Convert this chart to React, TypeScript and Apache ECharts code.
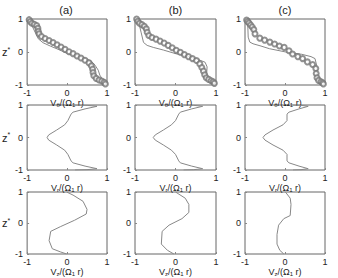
import React, { useEffect, useRef } from "react";
import * as echarts from "echarts";

// Row 1: V_theta profiles (line = model, circles = measurements)
const lineA_V = [-0.97, -0.9, -0.8, -0.72, -0.6, -0.42, -0.2, 0.01, 0.2, 0.42, 0.6, 0.7, 0.78, 0.82, 0.9, 0.98];
const lineA_Z = [1, 0.85, 0.6, 0.4, 0.28, 0.18, 0.07, -0.05, -0.1, -0.17, -0.27, -0.4, -0.55, -0.7, -0.85, -0.97];
const lineB_V = [-0.95, -0.9, -0.85, -0.79, -0.7, -0.55, -0.3, 0.03, 0.3, 0.52, 0.73, 0.78, 0.77, 0.8, 0.93, 0.97];
const lineB_Z = [1, 0.85, 0.6, 0.29, 0.2, 0.14, 0.06, -0.06, -0.13, -0.21, -0.31, -0.45, -0.67, -0.8, -0.93, -1];
const lineC_V = [-0.95, -0.93, -0.92, -0.88, -0.8, -0.6, -0.39, 0.02, 0.42, 0.65, 0.75, 0.8, 0.8, 0.82, 0.92, 0.96];
const lineC_Z = [1, 0.8, 0.45, 0.3, 0.25, 0.18, 0.1, 0, -0.07, -0.14, -0.2, -0.45, -0.75, -0.85, -0.92, -0.98];

const circA_V = [-0.95, -0.92, -0.88, -0.82, -0.76, -0.73, -0.72, -0.7, -0.64, -0.55, -0.45, -0.35, -0.25, -0.15, -0.05, 0.05, 0.15, 0.25, 0.35, 0.45, 0.55, 0.61, 0.64, 0.65, 0.67, 0.73, 0.8, 0.87, 0.93, 0.96];
const circA_Z = [0.98, 0.92, 0.87, 0.84, 0.8, 0.72, 0.63, 0.55, 0.47, 0.41, 0.35, 0.29, 0.22, 0.15, 0.08, 0.01, -0.05, -0.12, -0.18, -0.25, -0.33, -0.42, -0.52, -0.62, -0.72, -0.8, -0.85, -0.88, -0.92, -0.97];
const circB_V = [-0.96, -0.93, -0.89, -0.83, -0.77, -0.72, -0.7, -0.66, -0.58, -0.48, -0.38, -0.28, -0.18, -0.08, 0.02, 0.12, 0.22, 0.32, 0.42, 0.52, 0.6, 0.65, 0.69, 0.72, 0.76, 0.82, 0.88, 0.93, 0.96];
const circB_Z = [1, 0.93, 0.87, 0.83, 0.78, 0.7, 0.6, 0.5, 0.44, 0.39, 0.33, 0.27, 0.2, 0.13, 0.05, -0.01, -0.08, -0.14, -0.2, -0.26, -0.36, -0.47, -0.58, -0.69, -0.78, -0.83, -0.87, -0.9, -0.95];
const circC_V = [-0.96, -0.93, -0.9, -0.86, -0.82, -0.78, -0.75, -0.63, -0.51, -0.38, -0.26, -0.14, -0.02, 0.1, 0.19, 0.32, 0.44, 0.56, 0.69, 0.77, 0.78, 0.8, 0.84, 0.9, 0.94, 0.96];
const circC_Z = [0.97, 0.92, 0.88, 0.82, 0.76, 0.68, 0.55, 0.42, 0.36, 0.3, 0.24, 0.18, 0.14, 0.04, -0.06, -0.14, -0.2, -0.3, -0.38, -0.5, -0.65, -0.78, -0.86, -0.9, -0.93, -0.97];

// Row 2: V_r profiles
const vrA_V = [0.2, 0.5, 0.75, 0.45, 0.15, 0.1, 0.02, -0.06, -0.26, -0.46, -0.5, -0.46, -0.26, -0.06, 0.02, 0.1, 0.15, 0.45, 0.75, 0.5, 0.2];
const vrB_V = [0.2, 0.45, 0.67, 0.4, 0.12, 0.08, 0.0, -0.1, -0.3, -0.5, -0.55, -0.5, -0.3, -0.1, 0.0, 0.08, 0.12, 0.4, 0.67, 0.45, 0.2];
const vrC_V = [0.2, 0.4, 0.58, 0.35, 0.1, 0.05, 0.05, -0.05, -0.3, -0.5, -0.55, -0.5, -0.3, -0.05, 0.05, 0.05, 0.1, 0.35, 0.58, 0.4, 0.2];
const vr_Z = [1, 0.99, 0.96, 0.88, 0.78, 0.72, 0.52, 0.39, 0.23, 0.08, 0, -0.08, -0.23, -0.39, -0.52, -0.72, -0.78, -0.88, -0.96, -0.99, -1];

// Row 3: V_z profiles
const vzA_V = [-0.01, 0.15, 0.4, 0.5, 0.48, 0.19, -0.17, -0.41, -0.45, -0.37, -0.17, -0.01];
const vzA_Z = [1, 0.9, 0.7, 0.44, 0.29, 0.09, -0.12, -0.27, -0.57, -0.83, -0.93, -1];
const vzB_V = [0.0, 0.24, 0.33, 0.33, 0.16, -0.16, -0.33, -0.35, -0.2, -0.04];
const vzB_Z = [1, 0.8, 0.6, 0.34, 0.14, -0.07, -0.27, -0.68, -0.88, -1];
const vzC_V = [0.01, 0.13, 0.15, 0.13, -0.03, -0.16, -0.2, -0.2, -0.13, -0.03];
const vzC_Z = [1, 0.8, 0.6, 0.24, 0.14, -0.07, -0.37, -0.68, -0.88, -1];

const panelTitles = ["(a)", "(b)", "(c)"];
const xNames = ["V{s|θ}/(Ω{s|1} r)", "V{s|r}/(Ω{s|1} r)", "V{s|z}/(Ω{s|1} r)"];
const yName = "z{sup|*}";

const FONT = "Liberation Sans, Arial, sans-serif";
const colLeft = [25, 135, 245];
const colWidth = [82, 81, 80];
const rowTop = [19, 105, 192];
const rowHeight = [66, 65, 65];

const zip = (a: number[], b: number[]) => a.map((v, i) => [v, b[i]]);

export default function App() {
  const ref = useRef<HTMLDivElement>(null);
  useEffect(() => {
    if (!ref.current) return;
    const chart = echarts.init(ref.current, undefined, { renderer: "svg" });
    const grids: any[] = [];
    const xAxes: any[] = [];
    const yAxes: any[] = [];
    const series: any[] = [];
    const lineSets = [
      [zip(lineA_V, lineA_Z), zip(lineB_V, lineB_Z), zip(lineC_V, lineC_Z)],
      [zip(vrA_V, vr_Z), zip(vrB_V, vr_Z), zip(vrC_V, vr_Z)],
      [zip(vzA_V, vzA_Z), zip(vzB_V, vzB_Z), zip(vzC_V, vzC_Z)],
    ];
    const circSets = [zip(circA_V, circA_Z), zip(circB_V, circB_Z), zip(circC_V, circC_Z)];
    let idx = 0;
    for (let r = 0; r < 3; r++) {
      for (let c = 0; c < 3; c++) {
        grids.push({
          left: colLeft[c],
          top: rowTop[r],
          width: colWidth[c],
          height: rowHeight[r],
          show: true,
          borderColor: "#666",
          borderWidth: 1,
          backgroundColor: "#fff",
        });
        xAxes.push({
          gridIndex: idx,
          type: "value",
          min: -1,
          max: 1,
          interval: 1,
          axisLine: { show: false, onZero: false },
          axisTick: { show: true, inside: true, length: 2, lineStyle: { color: "#888" } },
          splitLine: { show: false },
          axisLabel: { fontSize: 9, color: "#222", fontFamily: FONT, margin: 3 },
          name: xNames[r],
          nameLocation: "middle",
          nameGap: 13,
          nameTextStyle: {
            fontSize: 9,
            color: "#222",
            fontFamily: FONT,
            rich: { s: { fontSize: 6, fontFamily: FONT, color: "#222", padding: [4, 0, 0, 0] } },
          },
        });
        yAxes.push({
          gridIndex: idx,
          type: "value",
          min: -1,
          max: 1,
          interval: 1,
          axisLine: { show: false, onZero: false },
          axisTick: { show: true, inside: true, length: 2, lineStyle: { color: "#888" } },
          splitLine: { show: false },
          axisLabel: { fontSize: 9, color: "#222", fontFamily: FONT, margin: 4 },
          name: c === 0 ? yName : "",
          nameLocation: "middle",
          nameRotate: 0,
          nameGap: 15,
          nameTextStyle: {
            fontSize: 11,
            color: "#222",
            fontFamily: FONT,
            rich: { sup: { fontSize: 7, fontFamily: FONT, color: "#222", padding: [0, 0, 6, 0] } },
          },
        });
        series.push({
          type: "line",
          xAxisIndex: idx,
          yAxisIndex: idx,
          data: lineSets[r][c],
          showSymbol: false,
          symbol: "none",
          lineStyle: { color: "#888", width: 1 },
          z: 3,
        });
        if (r === 0) {
          series.push({
            type: "scatter",
            xAxisIndex: idx,
            yAxisIndex: idx,
            data: circSets[c],
            symbol: "emptyCircle",
            symbolSize: 5,
            itemStyle: { color: "#777", borderWidth: 0.6 },
            z: 4,
          });
        }
        idx++;
      }
    }
    const graphic = panelTitles.map((t, c) => ({
      type: "text",
      x: colLeft[c] + colWidth[c] / 2,
      y: 10,
      style: {
        text: t,
        fontSize: 11,
        fontFamily: FONT,
        fill: "#222",
        textAlign: "center",
        textVerticalAlign: "middle",
      },
    }));
    chart.setOption({
      animation: false,
      backgroundColor: "#fff",
      grid: grids,
      xAxis: xAxes,
      yAxis: yAxes,
      series,
      graphic,
    });
    return () => chart.dispose();
  }, []);
  return (
    <div
      ref={ref}
      style={{ position: "fixed", left: 0, top: 0, width: 338, height: 278, background: "#fff" }}
    />
  );
}
